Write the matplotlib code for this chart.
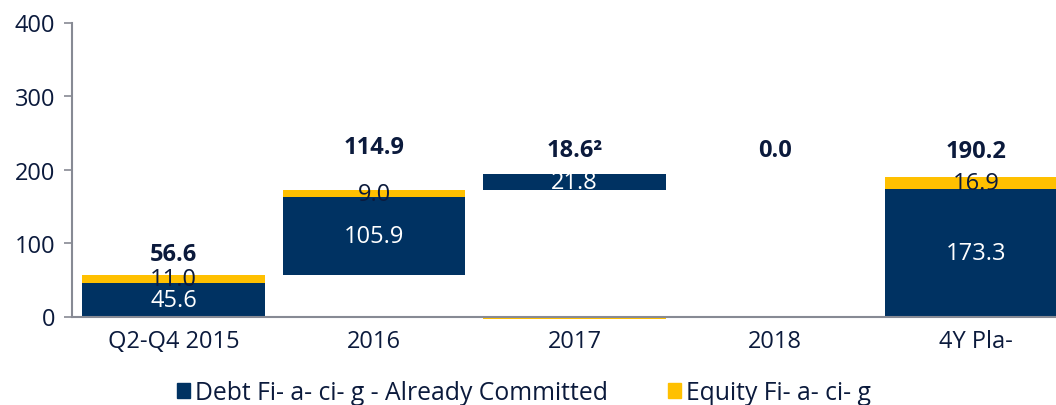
import matplotlib.pyplot as plt
from matplotlib.patches import Rectangle

# ---- data ----
categories = ["Q2-Q4 2015", "2016", "2017", "2018", "4Y Pla-"]
debt = [45.6, 105.9, 21.8, 0.0, 173.3]
equity = [11.0, 9.0, -3.2, 0.0, 16.9]
debt_base = [0.0, 56.6, 171.5, 0.0, 0.0]
equity_base = [45.6, 162.5, 0.0, 0.0, 173.3]
debt_labels = ["45.6", "105.9", "21.8", "", "173.3"]
equity_labels = ["11.0", "9.0", "", "", "16.9"]
total_labels = ["56.6", "114.9", "18.6\u00b2", "0.0", "190.2"]
total_label_y = [85, 230, 227, 227, 225]

NAVY = "#003262"
GOLD = "#FFC000"
TXT = "#0B1A3C"
AXC = "#878A94"

plt.rcParams['font.family'] = ['Open Sans', 'DejaVu Sans']

fig = plt.figure(figsize=(10.56, 4.06), dpi=100)
ax = fig.add_axes([72 / 1056, 1 - 317.5 / 406, 1 - 72 / 1056, (317.5 - 23.5) / 406])

x = list(range(len(categories)))
w = 0.91
ax.bar(x, debt, w, bottom=debt_base, color=NAVY, zorder=2)
eq_bars = ax.bar(x, equity, w, bottom=equity_base, color=GOLD, zorder=2)
for b in eq_bars:
    b.set_clip_on(False)

for i in x:
    if debt_labels[i]:
        ax.text(i, debt_base[i] + debt[i] / 2, debt_labels[i], ha='center', va='center',
                color='white', fontsize=17, zorder=3)
    if equity_labels[i]:
        ax.text(i, equity_base[i] + equity[i] / 2, equity_labels[i], ha='center', va='center',
                color=TXT, fontsize=17, zorder=3)
    ax.text(i, total_label_y[i], total_labels[i], ha='center', va='center',
            color=TXT, fontsize=17, fontweight='bold', zorder=3)

ax.set_xlim(-0.506, 4.40)
ax.set_ylim(0, 400)
ax.set_yticks([0, 100, 200, 300, 400])
ax.set_xticks(x)
ax.set_xticklabels(categories)
ax.tick_params(axis='y', length=6, width=1.2, color=AXC, labelcolor=TXT, labelsize=17, pad=6)
ax.tick_params(axis='x', length=0, labelcolor=TXT, labelsize=17, pad=9)

for s in ['top', 'right']:
    ax.spines[s].set_visible(False)
for s in ['left', 'bottom']:
    ax.spines[s].set_color(AXC)
    ax.spines[s].set_linewidth(1.5)
    ax.spines[s].set_zorder(4)

handles = [Rectangle((0, 0), 1, 1, color=NAVY), Rectangle((0, 0), 1, 1, color=GOLD)]
fig.legend(handles, ["Debt Fi- a- ci- g - Already Committed", "Equity Fi- a- ci- g"],
           loc='center', bbox_to_anchor=(0.496, 0.03), ncol=2, frameon=False,
           fontsize=17.8, labelcolor=TXT, handlelength=0.55, handleheight=0.55,
           handletextpad=0.2, columnspacing=2.4)

fig.savefig("out.png", dpi=100)
